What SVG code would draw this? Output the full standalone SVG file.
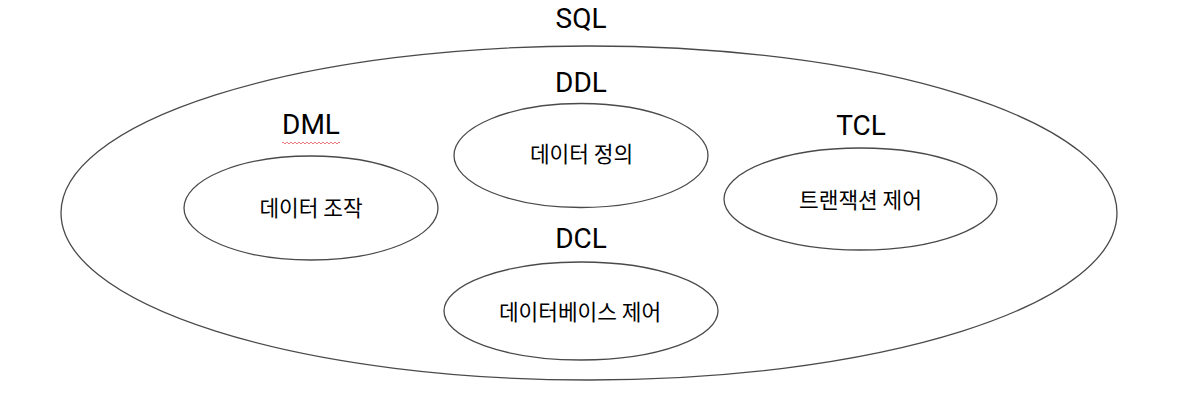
<svg xmlns="http://www.w3.org/2000/svg" width="1177" height="400" viewBox="0 0 1177 400">
<style>
.e{fill:none;stroke:#4a4a4a;stroke-width:1.3}
.h{font-family:Roboto,"Liberation Sans",sans-serif;font-size:28px;fill:#000;text-anchor:middle}
.k{font-family:"Noto Sans CJK KR","Noto Sans",sans-serif;font-size:21.4px;fill:#000;text-anchor:middle}
</style>
<rect width="1177" height="400" fill="#fff"/>
<g id="sql">
<ellipse class="e" cx="589" cy="213" rx="528" ry="167"/>
<text class="h" x="581" y="28">SQL</text>
</g>
<g id="ddl">
<text class="h" x="581" y="92">DDL</text>
<ellipse class="e" cx="581" cy="155.5" rx="127" ry="52"/>
<text class="k" x="581.5" y="162">데이터 정의</text>
</g>
<g id="dml">
<text class="h" x="311" y="134">DML</text>
<path d="M282 143 q1 -2 2 0 t2 0 t2 0 t2 0 t2 0 t2 0 t2 0 t2 0 t2 0 t2 0 t2 0 t2 0 t2 0 t2 0 t2 0 t2 0 t2 0 t2 0 t2 0 t2 0 t2 0 t2 0 t2 0 t2 0 t2 0 t2 0 t2 0 t2 0 t2 0" fill="none" stroke="#e86a6a" stroke-width="0.9"/>
<ellipse class="e" cx="311" cy="208" rx="127" ry="52"/>
<text class="k" x="311" y="216">데이터 조작</text>
</g>
<g id="tcl">
<text class="h" x="861" y="135">TCL</text>
<ellipse class="e" cx="860.5" cy="199" rx="136.5" ry="51"/>
<text class="k" x="860.5" y="208">트랜잭션 제어</text>
</g>
<g id="dcl">
<text class="h" x="581" y="248">DCL</text>
<ellipse class="e" cx="581" cy="311" rx="137" ry="49"/>
<text class="k" x="580" y="320">데이터베이스 제어</text>
</g>
<g id="connectors"/>
</svg>
